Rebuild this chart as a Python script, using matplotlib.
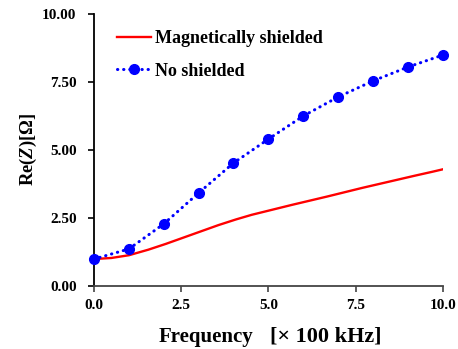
import matplotlib
matplotlib.use("Agg")
import matplotlib.pyplot as plt
import numpy as np

plt.rcParams['font.family'] = ['Liberation Serif', 'DejaVu Serif']
plt.rcParams['font.weight'] = 'bold'
plt.rcParams['mathtext.fontset'] = 'custom'
plt.rcParams['mathtext.rm'] = 'Liberation Serif:bold'
plt.rcParams['mathtext.it'] = 'Liberation Serif:italic:bold'

# Data
freq_shielded = [0, 0.5, 1, 1.5, 2, 2.5, 3, 3.5, 4, 4.5, 5, 5.5, 6, 6.5, 7, 7.5, 8, 8.5, 9, 9.5, 10]
re_shielded = [0.99, 1.03, 1.13, 1.31, 1.52, 1.75, 1.98, 2.21, 2.42, 2.61, 2.77, 2.93, 3.08, 3.23, 3.39, 3.55, 3.70, 3.85, 4.00, 4.14, 4.29]
freq_none = [0, 1, 2, 3, 4, 5, 6, 7, 8, 9, 10]
re_none = [0.99, 1.36, 2.28, 3.42, 4.52, 5.40, 6.25, 6.95, 7.54, 8.05, 8.49]
xticks = [0.0, 2.5, 5.0, 7.5, 10.0]
yticks = [0.0, 2.5, 5.0, 7.5, 10.0]

fig = plt.figure(figsize=(4.58, 3.49), dpi=100)
ax = fig.add_axes([0.205, 0.1805, 0.762, 0.7795])

xs = np.linspace(0, 10, 200)
ys = np.interp(xs, freq_shielded, re_shielded)
ax.plot(xs, ys, color='#ff0000', lw=1.7, label='Magnetically shielded', zorder=3)
ax.plot(freq_none, re_none, color='#0000ff', lw=2.2, ls=(0, (0.1, 1.9)),
        dash_capstyle='round', marker='o', ms=7, label='No shielded', zorder=4, clip_on=False)

ax.set_xlim(0, 10)
ax.set_ylim(0, 10)
ax.set_xticks(xticks)
ax.set_xticklabels([f'{v:.1f}' for v in xticks])
ax.set_yticks(yticks)
ax.set_yticklabels([f'{v:.2f}' for v in yticks])
for s in ['top', 'right']:
    ax.spines[s].set_visible(False)
ax.spines['left'].set_color('black')
ax.spines['left'].set_linewidth(1.3)
ax.spines['bottom'].set_color('#444444')
ax.spines['bottom'].set_linewidth(1.3)
ax.tick_params(axis='both', direction='out', length=4.5, width=1.2, labelsize=11)
ax.tick_params(axis='y', pad=8)
ax.tick_params(axis='x', colors='#444444', labelcolor='black', pad=5)
for lab in ax.get_xticklabels() + ax.get_yticklabels():
    lab.set_fontweight('bold')

# x label in two parts
ax.text(0.456, -0.205, 'Frequency', transform=ax.transAxes, fontsize=15,
        fontweight='bold', ha='right', va='baseline')
ax.text(0.504, -0.205, '[× 100 kHz]', transform=ax.transAxes, fontsize=16,
        fontweight='bold', ha='left', va='baseline')
ax.set_ylabel(r'Re$(Z)$[Ω]', fontsize=13.3, fontweight='bold', labelpad=2)

leg = ax.legend(loc='upper left', bbox_to_anchor=(0.019, 1.0), frameon=False,
                handlelength=1.9, handletextpad=0.2, labelspacing=0.85,
                prop={'weight': 'bold', 'size': 13})

fig.savefig('out.png', dpi=100)
